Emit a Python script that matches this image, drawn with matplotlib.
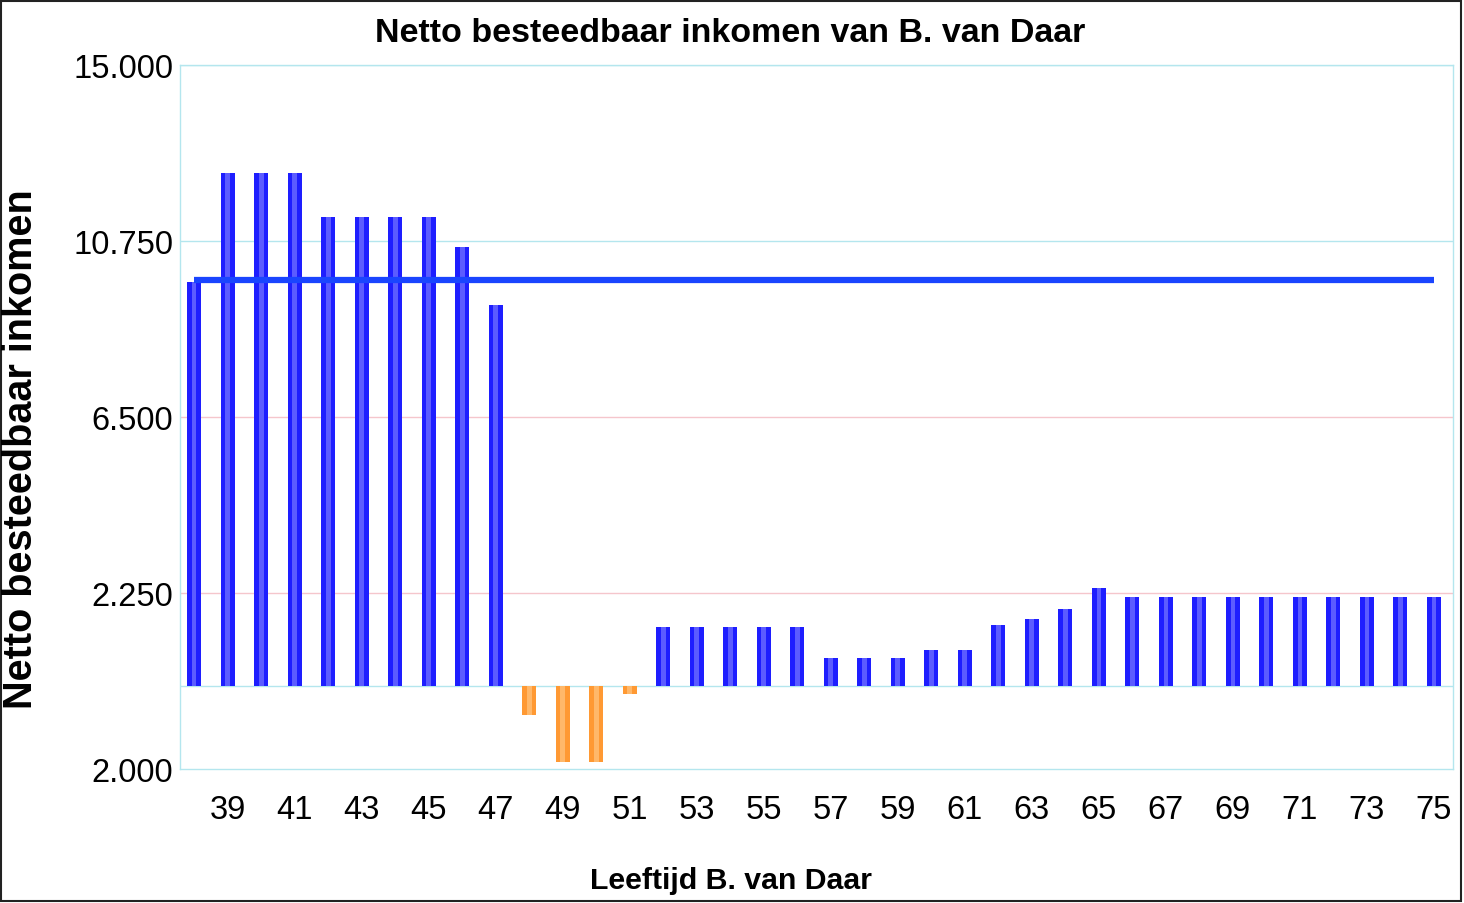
import matplotlib.pyplot as plt
from matplotlib.patches import Rectangle

ages = list(range(38, 76))
income = [9750,
          12400, 12400, 12400,
          11330, 11330, 11330, 11330,
          10600, 9200,
          -690, -1820, -1820, -190,
          1430, 1430, 1430, 1430, 1430,
          680, 680, 680,
          880, 880,
          1470, 1620, 1860, 2370,
          2150, 2150, 2150, 2150, 2150, 2150, 2150, 2150, 2150, 2150]
norm_level = 9800

y_ticks = [15000, 10750, 6500, 2250, -2000]
y_labels = ['15.000', '10.750', '6.500', '2.250', '2.000']
x_ticks = list(range(39, 76, 2))

plt.rcParams['font.family'] = ['Liberation Sans', 'DejaVu Sans']

fig = plt.figure(figsize=(14.64, 9.04), dpi=100)
ax = fig.add_axes([0.123, 0.1482, 0.8695, 0.7788])

# grid lines first, behind the bars
grid_cols = {15000: '#b4e6ee', 10750: '#b4e6ee', 6500: '#f5c6cc', 2250: '#f5c6cc'}
for v, c in grid_cols.items():
    ax.axhline(v, color=c, lw=1.0, zorder=0)
ax.axhline(0, color='#b4e6ee', lw=1.0, zorder=0)

blue = '#1e1eff'
blue_light = '#5c5cff'
orange = '#ff9933'
orange_light = '#ffb86a'
for a, v in zip(ages, income):
    col, hi = (blue, blue_light) if v >= 0 else (orange, orange_light)
    ax.bar(a, v, width=0.42, color=col, zorder=2)
    ax.bar(a, v, width=0.14, color=hi, zorder=3)

ax.plot([ages[0], ages[-1]], [norm_level, norm_level], color='#1a45ff', lw=4.5,
        solid_capstyle='butt', zorder=4)

ax.set_xlim(37.58, 75.57)
ax.set_ylim(-2000, 15000)
ax.set_yticks(y_ticks)
ax.set_yticklabels(y_labels)
ax.set_xticks(x_ticks)
ax.set_xticklabels([str(x) for x in x_ticks])
ax.tick_params(axis='both', length=0, labelsize=23.5)
ax.tick_params(axis='x', pad=18)
ax.tick_params(axis='y', pad=5)

for side in ['left', 'right', 'top', 'bottom']:
    ax.spines[side].set_color('#b4e6ee')
    ax.spines[side].set_linewidth(1.0)

fig.text(0.499, 0.963, 'Netto besteedbaar inkomen van B. van Daar', ha='center', va='center',
         fontsize=24.5, fontweight='bold')
fig.text(0.0145, 0.503, 'Netto besteedbaar inkomen', ha='center', va='center', rotation=90,
         fontsize=28.5, fontweight='bold')
fig.text(0.499, 0.0254, 'Leeftijd B. van Daar', ha='center', va='center',
         fontsize=21.8, fontweight='bold')

fig.patches.append(Rectangle((0.001, 0.002), 0.997, 0.996, transform=fig.transFigure,
                             fill=False, edgecolor='#222222', lw=1.5))

fig.savefig('out.png', dpi=100)
